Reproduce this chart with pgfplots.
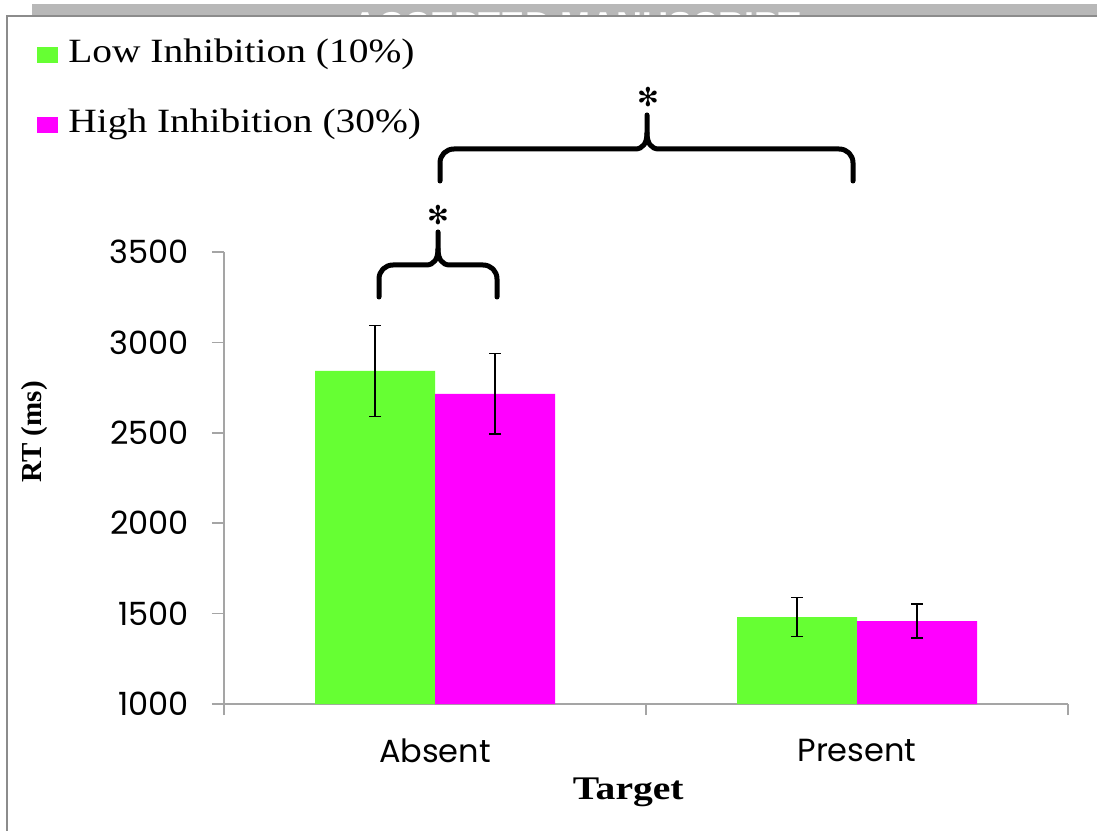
\documentclass[border=0pt]{standalone}
\usepackage{fontspec}
\setmainfont{Liberation Serif}[FakeStretch=1.2]
\newfontfamily\legfont{Liberation Serif}[FakeStretch=1.16]
\newfontfamily\rtfont{Liberation Serif}
\newfontfamily\tickfont{Poppins}
\newfontfamily\symfont{DejaVu Sans}
\newfontfamily\wmfont{Liberation Sans}
\usepackage{pgfplots}
\pgfplotsset{compat=1.18}
\definecolor{lowgreen}{RGB}{102,255,51}
\definecolor{highmag}{RGB}{255,0,255}
\definecolor{axgray}{RGB}{165,165,165}
\definecolor{bandgray}{RGB}{184,184,184}
\definecolor{framegray}{RGB}{140,140,140}
\begin{document}
\begin{tikzpicture}
\path[use as bounding box] (0,0) rectangle (548.5pt,415pt);
\fill[white] (0,0) rectangle (548.5pt,415pt);
\begin{scope}[yshift=415pt,x=0.5pt,y=-0.5pt]
  \fill[bandgray] (32,4) rectangle (1097,16);
  \begin{scope}
    \clip (32,4) rectangle (1097,16);
    \node[white, inner sep=0pt, anchor=north, font=\wmfont\bfseries\fontsize{18}{18}\selectfont] at (577,12) {ACCEPTED MANUSCRIPT};
  \end{scope}
  \draw[framegray, line width=1pt] (7,832) -- (7,16) -- (1099,16);
\end{scope}
\begin{axis}[
  at={(112pt,63pt)}, anchor=south west,
  scale only axis, width=422pt, height=226pt,
  xmin=-0.5, xmax=1.5, ymin=1000, ymax=3500,
  axis x line*=bottom, axis y line*=left,
  axis line style={axgray, line width=0.8pt, -},
  ybar=0pt, bar width=60pt,
  xtick={0,1}, xticklabels={Absent,Present},
  minor xtick={-0.5,0.5,1.5},
  ytick={1000,1500,2000,2500,3000,3500},
  tick align=outside,
  major tick length=6pt, minor tick length=5.5pt,
  tick style={axgray, line width=0.8pt},
  major x tick style={draw=none},
  /pgf/number format/assume math mode=true,
  /pgf/number format/1000 sep={},
  ticklabel style={font=\tickfont\fontsize{16}{16}\selectfont},
  yticklabel shift=8pt,
  xticklabel shift=8pt,
  xlabel={Target},
  xlabel style={at={(rel axis cs:0.479,-0.212)}, anchor=base, font=\bfseries\fontsize{16.5}{16.5}\selectfont},
  ylabel={RT (ms)},
  ylabel style={at={(rel axis cs:-0.225,0.602)}, anchor=center, font=\rtfont\bfseries\fontsize{14.5}{14.5}\selectfont},
  legend style={at={(rel axis cs:-0.2216,1.473)}, anchor=north west, draw=none, fill=none, inner sep=0pt,
    font=\legfont\fontsize{17}{17}\selectfont, row sep=19pt, column sep=0pt,
    nodes={inner sep=0pt, text height=12pt, text depth=4pt}},
  legend cell align=left,
]
\addplot[fill=lowgreen, draw=none,
  legend image code/.code={\fill[lowgreen] (0pt,-4pt) rectangle (10.5pt,4pt); \path (15.5pt,0pt);},
  error bars/.cd, y dir=both, y explicit,
  error bar style={draw=black, line width=0.6pt},
  error mark options={rotate=90, draw=black, line width=0.6pt, mark size=3pt}]
  table[x=x, y=y, y error=e] {
x y e
0 2842 252
1 1481 108
};
\addplot[fill=highmag, draw=none,
  legend image code/.code={\fill[highmag] (0pt,-4pt) rectangle (10.5pt,4pt); \path (15.5pt,0pt);},
  error bars/.cd, y dir=both, y explicit,
  error bar style={draw=black, line width=0.6pt},
  error mark options={rotate=90, draw=black, line width=0.6pt, mark size=3pt}]
  table[x=x, y=y, y error=e] {
x y e
0 2715 222
1 1459 94
};
\legend{Low Inhibition (10\%), High Inhibition (30\%)}
\end{axis}
\begin{scope}[yshift=415pt,x=0.5pt,y=-0.5pt, line width=2.5pt, line cap=round, line join=round]
  % big brace
  \draw (440,181) -- (440,163) .. controls (440,155) and (446,149) .. (454,149) -- (635,149)
        .. controls (643,149) and (647,143) .. (647,133) -- (647,115);
  \draw (853,181) -- (853,163) .. controls (853,155) and (847,149) .. (839,149) -- (659,149)
        .. controls (651,149) and (647,143) .. (647,133);
  \node[font=\symfont\fontsize{13}{13}\selectfont, inner sep=0pt] at (648,97) {✻};
  % small brace
  \draw (379,297) -- (379,279) .. controls (379,271) and (385,265) .. (393,265) -- (426,265)
        .. controls (434,265) and (438,259) .. (438,249) -- (438,232);
  \draw (497,297) -- (497,279) .. controls (497,271) and (491,265) .. (483,265) -- (450,265)
        .. controls (442,265) and (438,259) .. (438,249);
  \node[font=\symfont\fontsize{13}{13}\selectfont, inner sep=0pt] at (438,215) {✻};
\end{scope}
\end{tikzpicture}
\end{document}
